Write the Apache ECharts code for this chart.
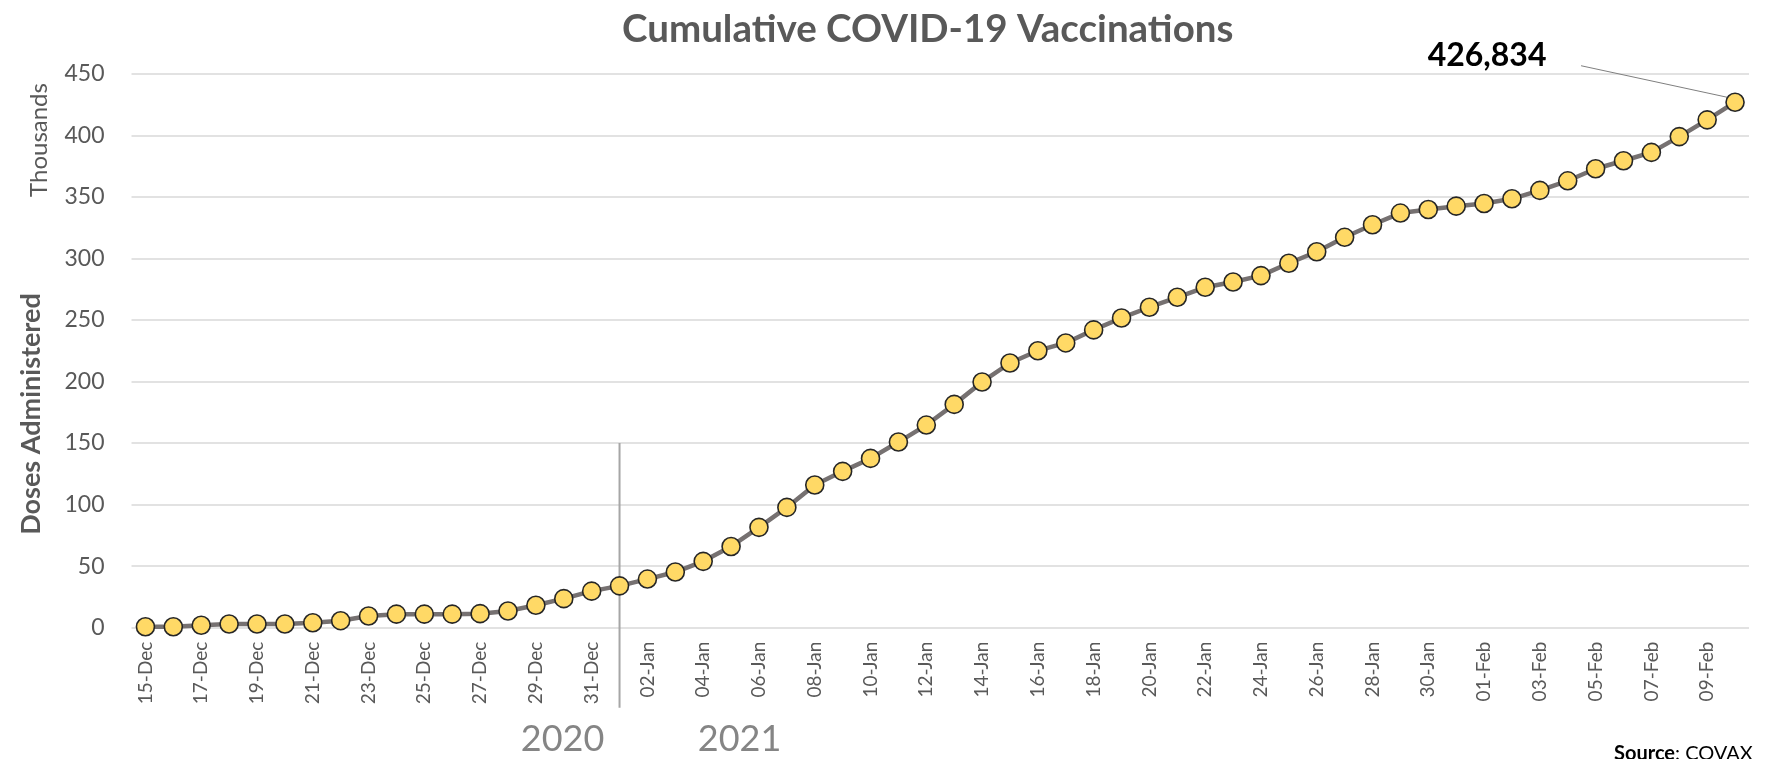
<!DOCTYPE html>
<html><head><meta charset="utf-8">
<script src="https://cdn.jsdelivr.net/npm/echarts@6/dist/echarts.min.js"></script>
<style>html,body{margin:0;padding:0;background:#fff}#c{width:1767px;height:759px}</style>
</head><body><div id="c"></div>
<script>
const chartTitle = 'Cumulative COVID-19 Vaccinations';
const dates = [
  '15-Dec','16-Dec','17-Dec','18-Dec','19-Dec','20-Dec','21-Dec','22-Dec','23-Dec','24-Dec','25-Dec','26-Dec','27-Dec','28-Dec','29-Dec','30-Dec','31-Dec',
  '01-Jan','02-Jan','03-Jan','04-Jan','05-Jan','06-Jan','07-Jan','08-Jan','09-Jan','10-Jan','11-Jan','12-Jan','13-Jan','14-Jan','15-Jan','16-Jan',
  '17-Jan','18-Jan','19-Jan','20-Jan','21-Jan','22-Jan','23-Jan','24-Jan','25-Jan','26-Jan','27-Jan','28-Jan','29-Jan','30-Jan','31-Jan',
  '01-Feb','02-Feb','03-Feb','04-Feb','05-Feb','06-Feb','07-Feb','08-Feb','09-Feb','10-Feb'
];
const dosesThousands = [
  0.8,0.8,2,3,3,3,4,5.7,9.5,11,11,11,11.4,13.6,18.2,23.6,29.7,
  34,39.5,45.2,53.9,66,81.5,97.7,115.9,127,137.5,150.8,164.6,181.4,199.6,215,225,
  231.3,241.9,251.6,260.3,268.4,276.5,280.8,286,296,305.4,317.1,327.3,336.8,339.7,342.4,
  344.6,348.4,355.2,363,372.8,379.3,386.1,398.9,412.5,426.834
];
const yearLabels = ['2020','2021'];
const yearBoundary = '01-Jan';
const yAxisTitle = 'Doses Administered';
const unitLabel = 'Thousands';
const sourceText = '{b|Source}: COVAX';

const FONT = 'Lato, "Open Sans", sans-serif';
const chart = echarts.init(document.getElementById('c'), null, {renderer: 'canvas'});
chart.setOption({
  animation: false,
  backgroundColor: '#ffffff',
  title: {
    text: chartTitle, left: 622, top: 11, padding: 0,
    textStyle: {fontFamily: FONT, fontWeight: 'bold', fontSize: 38.5, color: '#595959', lineHeight: 38}
  },
  grid: {left: 131.5, right: 18, top: 73.7, bottom: 131.3, containLabel: false},
  xAxis: {
    type: 'category', data: dates, boundaryGap: true,
    axisLine: {show: false}, axisTick: {show: false},
    axisLabel: {interval: 1, rotate: 90, margin: 14, fontFamily: FONT, fontSize: 19, color: '#595959'}
  },
  yAxis: {
    type: 'value', min: 0, max: 450, interval: 50,
    axisLine: {show: false}, axisTick: {show: false},
    axisLabel: {margin: 27, fontFamily: FONT, fontSize: 23, color: '#595959'},
    splitLine: {lineStyle: {color: '#d9d9d9', width: 1.5}}
  },
  series: [{
    type: 'line', data: dosesThousands, symbol: 'circle', symbolSize: 18,
    lineStyle: {color: '#767171', width: 4.5},
    itemStyle: {color: '#FFD966', borderColor: '#262626', borderWidth: 1.6},
    z: 3
  }]
});

const bIdx = dates.indexOf(yearBoundary);
const sepX = chart.convertToPixel({xAxisIndex: 0}, bIdx);
const y150 = chart.convertToPixel({yAxisIndex: 0}, 150);
const y0 = chart.convertToPixel({yAxisIndex: 0}, 0);
const lastIdx = dosesThousands.length - 1;
const lp = chart.convertToPixel({seriesIndex: 0}, [lastIdx, dosesThousands[lastIdx]]);
const lastLabel = Math.round(dosesThousands[lastIdx] * 1000).toLocaleString('en-US');

chart.setOption({
  graphic: [
    {type: 'line', shape: {x1: sepX, y1: y150, x2: sepX, y2: y0 + 80}, style: {stroke: '#a6a6a6', lineWidth: 2}, z: 1},
    {type: 'text', x: sepX - 57, y: y0 + 112, style: {text: yearLabels[0], fontFamily: FONT, fontSize: 36, fill: '#858585', align: 'center', verticalAlign: 'middle'}},
    {type: 'text', x: sepX + 120, y: y0 + 112, style: {text: yearLabels[1], fontFamily: FONT, fontSize: 36, fill: '#858585', align: 'center', verticalAlign: 'middle'}},
    {type: 'text', x: 39, y: 140, rotation: Math.PI / 2, style: {text: unitLabel, fontFamily: FONT, fontSize: 24, fill: '#595959', align: 'center', verticalAlign: 'middle'}},
    {type: 'text', x: 31, y: 414, rotation: Math.PI / 2, style: {text: yAxisTitle, fontFamily: FONT, fontWeight: 'bold', fontSize: 27, fill: '#595959', align: 'center', verticalAlign: 'middle'}},
    {type: 'text', x: lp[0] - 248, y: lp[1] - 47, style: {text: lastLabel, fontFamily: FONT, fontWeight: 'bold', fontSize: 32, fill: '#000000', align: 'center', verticalAlign: 'middle'}},
    {type: 'line', shape: {x1: lp[0] - 154, y1: lp[1] - 36.5, x2: lp[0] - 8, y2: lp[1] - 5}, style: {stroke: '#7f7f7f', lineWidth: 1}},
    {type: 'text', x: 1614, y: 744, style: {text: sourceText, fontFamily: FONT, fontSize: 20, fill: '#000000', align: 'left', verticalAlign: 'top', rich: {b: {fontFamily: FONT, fontSize: 20, fontWeight: 'bold', fill: '#000000'}}}}
  ]
});
</script>
</body></html>
